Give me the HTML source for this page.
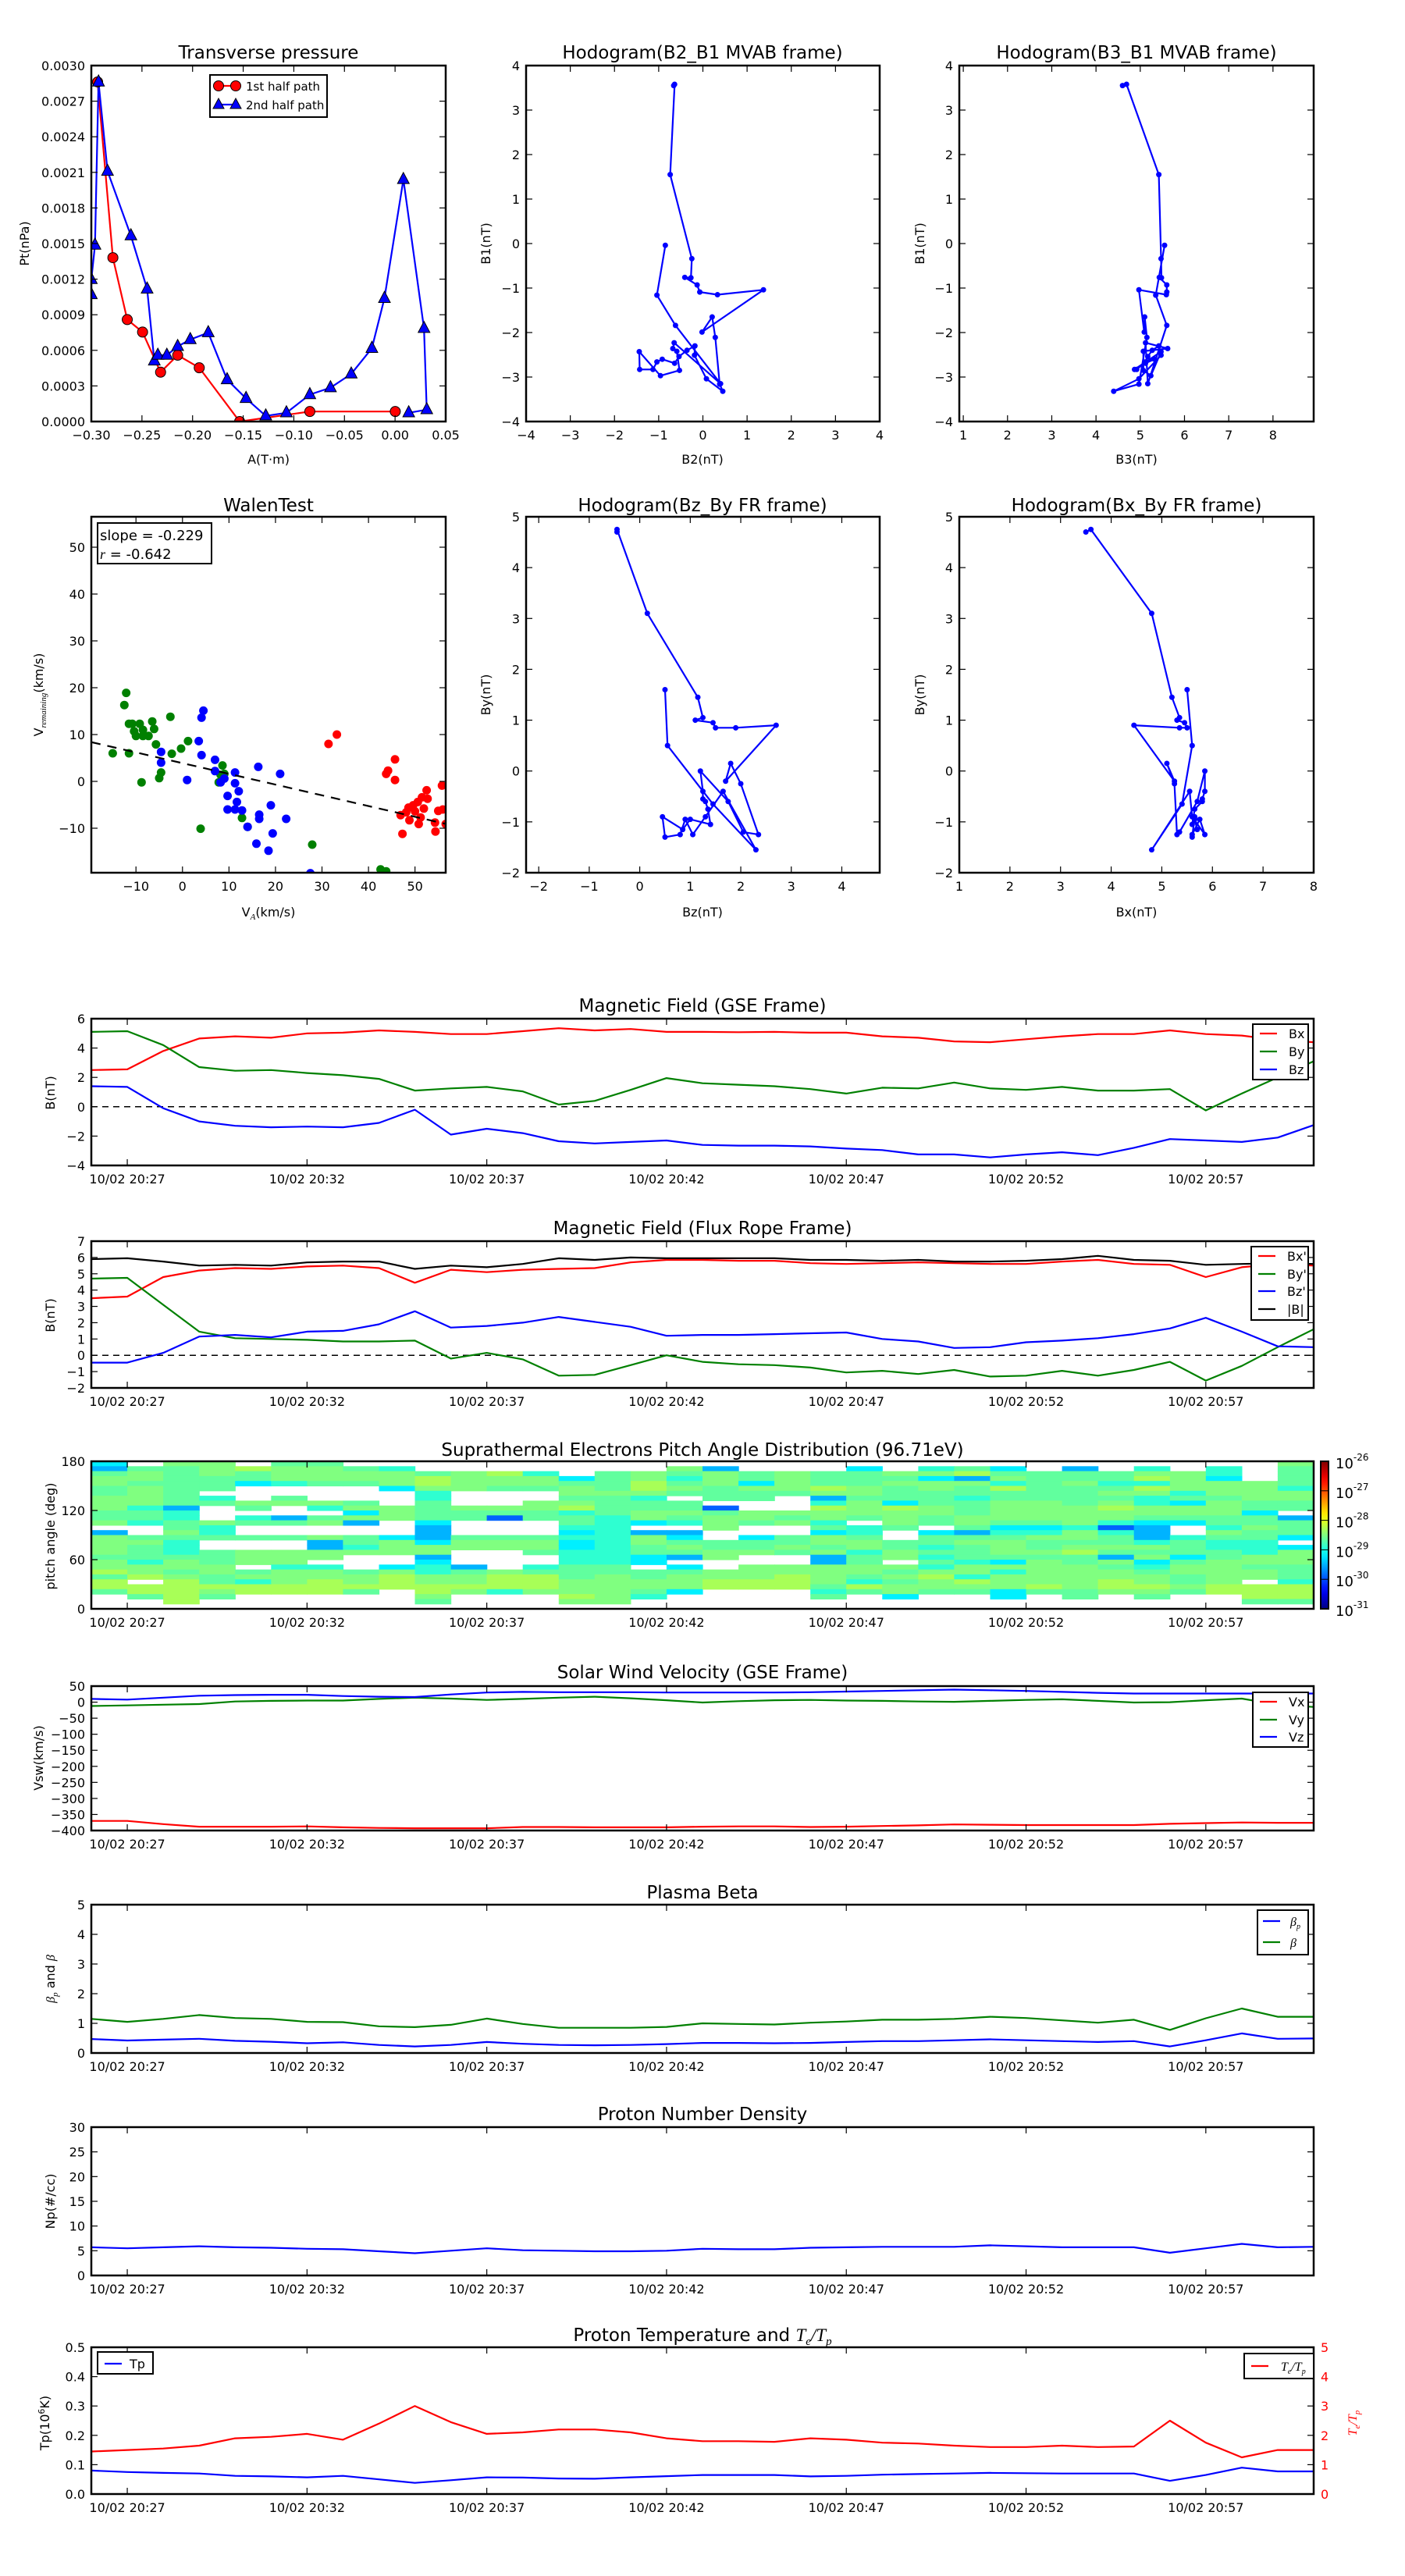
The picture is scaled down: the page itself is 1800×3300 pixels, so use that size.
<!DOCTYPE html>
<html><head><meta charset="utf-8"><title>Flux rope analysis</title>
<style>
html,body{margin:0;padding:0;background:#fff;}
svg{display:block;font-family:"DejaVu Sans","Liberation Sans",sans-serif;}
text{fill:#000;}
.ttl{font-size:23px;}
</style></head>
<body>
<svg id="chart" xmlns="http://www.w3.org/2000/svg" width="1800" height="3300" viewBox="0 0 1800 3300">
<rect x="0" y="0" width="1800" height="3300" fill="#fff"/>
<defs id="defs"></defs>
<!-- titles -->
<text class="ttl" x="344" y="75" text-anchor="middle">Transverse pressure</text>
<text class="ttl" x="900" y="75" text-anchor="middle">Hodogram(B2_B1 MVAB frame)</text>
<text class="ttl" x="1456" y="75" text-anchor="middle">Hodogram(B3_B1 MVAB frame)</text>
<text class="ttl" x="344" y="655" text-anchor="middle">WalenTest</text>
<text class="ttl" x="900" y="655" text-anchor="middle">Hodogram(Bz_By FR frame)</text>
<text class="ttl" x="1456" y="655" text-anchor="middle">Hodogram(Bx_By FR frame)</text>
<text class="ttl" x="900" y="1296" text-anchor="middle">Magnetic Field (GSE Frame)</text>
<text class="ttl" x="900" y="1581" text-anchor="middle">Magnetic Field (Flux Rope Frame)</text>
<text class="ttl" x="900" y="1865" text-anchor="middle">Suprathermal Electrons Pitch Angle Distribution (96.71eV)</text>
<text class="ttl" x="900" y="2150" text-anchor="middle">Solar Wind Velocity (GSE Frame)</text>
<text class="ttl" x="900" y="2432" text-anchor="middle">Plasma Beta</text>
<text class="ttl" x="900" y="2716" text-anchor="middle">Proton Number Density</text>
<text class="ttl" x="900" y="2999" text-anchor="middle">Proton Temperature and <tspan font-family="Liberation Serif,serif" font-style="italic">T</tspan><tspan font-family="Liberation Serif,serif" font-style="italic" font-size="15" dy="5">e</tspan><tspan font-family="Liberation Serif,serif" font-style="italic" dy="-5">/T</tspan><tspan font-family="Liberation Serif,serif" font-style="italic" font-size="15" dy="5">p</tspan></text>
<!-- axis labels -->
<text x="344" y="594" font-size="16" text-anchor="middle">A(T·m)</text>
<text x="900" y="594" font-size="16" text-anchor="middle">B2(nT)</text>
<text x="1456" y="594" font-size="16" text-anchor="middle">B3(nT)</text>
<text x="344" y="1174" font-size="16" text-anchor="middle">V<tspan font-family="Liberation Serif,serif" font-style="italic" font-size="11" dy="4">A</tspan><tspan dy="-4">(km/s)</tspan></text>
<text x="900" y="1174" font-size="16" text-anchor="middle">Bz(nT)</text>
<text x="1456" y="1174" font-size="16" text-anchor="middle">Bx(nT)</text>
<text transform="translate(37,312) rotate(-90)" font-size="16" text-anchor="middle">Pt(nPa)</text>
<text transform="translate(628,312) rotate(-90)" font-size="16" text-anchor="middle">B1(nT)</text>
<text transform="translate(1184,312) rotate(-90)" font-size="16" text-anchor="middle">B1(nT)</text>
<text transform="translate(55,890) rotate(-90)" font-size="16" text-anchor="middle">V<tspan font-family="Liberation Serif,serif" font-style="italic" font-size="11" dy="4">remaining</tspan><tspan dy="-4">(km/s)</tspan></text>
<text transform="translate(628,890) rotate(-90)" font-size="16" text-anchor="middle">By(nT)</text>
<text transform="translate(1184,890) rotate(-90)" font-size="16" text-anchor="middle">By(nT)</text>
<text transform="translate(70,1400) rotate(-90)" font-size="16" text-anchor="middle">B(nT)</text>
<text transform="translate(70,1685) rotate(-90)" font-size="16" text-anchor="middle">B(nT)</text>
<text transform="translate(70,1968) rotate(-90)" font-size="16" text-anchor="middle">pitch angle (deg)</text>
<text transform="translate(55,2252) rotate(-90)" font-size="16" text-anchor="middle">Vsw(km/s)</text>
<text transform="translate(70,2535) rotate(-90)" font-size="16" text-anchor="middle"><tspan font-family="Liberation Serif,serif" font-style="italic">β</tspan><tspan font-family="Liberation Serif,serif" font-style="italic" font-size="11" dy="4">p</tspan><tspan dy="-4"> and </tspan><tspan font-family="Liberation Serif,serif" font-style="italic">β</tspan></text>
<text transform="translate(70,2820) rotate(-90)" font-size="16" text-anchor="middle">Np(#/cc)</text>
<text transform="translate(63,3104) rotate(-90)" font-size="16" text-anchor="middle">Tp(10<tspan font-size="11" dy="-6">6</tspan><tspan dy="6">K)</tspan></text>
<text transform="translate(1738,3104) rotate(-90)" font-size="16" text-anchor="middle" fill="#f00" style="fill:#f00"><tspan font-family="Liberation Serif,serif" font-style="italic">T</tspan><tspan font-family="Liberation Serif,serif" font-style="italic" font-size="11" dy="4">e</tspan><tspan font-family="Liberation Serif,serif" font-style="italic" dy="-4">/T</tspan><tspan font-family="Liberation Serif,serif" font-style="italic" font-size="11" dy="4">p</tspan></text>
</svg>
<script>
// ---------------- DATA ----------------
const ptRedA = [-0.2938,-0.2787,-0.2645,-0.2494,-0.2316,-0.2147,-0.1934,-0.1535,-0.0842,0.0002];
const ptRedP = [0.002862,0.001381,0.000859,0.000754,0.000416,0.000559,0.000453,0.0,0.0000843,0.0000843];
const ptBlueA = [-0.300,-0.300,-0.2964,-0.2929,-0.2840,-0.2609,-0.2449,-0.2378,-0.2343,-0.2254,-0.2147,-0.2023,-0.1845,-0.1659,-0.1472,-0.1277,-0.1073,-0.0842,-0.0638,-0.0433,-0.0229,-0.0105,0.0082,0.0286,0.0313,0.0135];
const ptBlueP = [0.00107,0.001197,0.001487,0.002862,0.002109,0.001566,0.001117,0.000511,0.000559,0.000559,0.000633,0.000691,0.000749,0.000353,0.000195,0.0000474,0.0000738,0.000227,0.000285,0.000401,0.000617,0.001038,0.00204,0.000785,0.0001,0.0000738];
const ptYTicks = [0,0.0003,0.0006,0.0009,0.0012,0.0015,0.0018,0.0021,0.0024,0.0027,0.0030];
const ptYLabels = ["0.0000","0.0003","0.0006","0.0009","0.0012","0.0015","0.0018","0.0021","0.0024","0.0027","0.0030"];
const ptXTicks = [-0.30,-0.25,-0.20,-0.15,-0.10,-0.05,0.00,0.05];
const ptXLabels = ["\u22120.30","\u22120.25","\u22120.20","\u22120.15","\u22120.10","\u22120.05","0.00","0.05"];
const mvB1 = [3.55,3.58,1.55,-0.34,-0.77,-0.76,-0.93,-1.09,-1.15,-1.04,-1.99,-1.65,-2.11,-3.16,-3.32,-3.04,-2.51,-2.30,-2.40,-2.54,-2.69,-2.60,-2.66,-2.83,-2.83,-2.43,-2.97,-2.85,-2.42,-2.36,-2.23,-3.15,-1.84,-1.16,-0.04];
const mvB2 = [-0.66,-0.64,-0.74,-0.25,-0.27,-0.41,-0.13,-0.07,0.33,1.37,-0.02,0.21,0.28,0.38,0.45,0.08,-0.19,-0.18,-0.36,-0.54,-0.64,-0.92,-1.04,-1.13,-1.43,-1.44,-0.96,-0.53,-0.59,-0.68,-0.65,0.40,-0.62,-1.04,-0.85];
const mvB3 = [4.60,4.69,5.42,5.47,5.48,5.43,5.60,5.60,5.59,4.97,5.09,5.10,5.15,4.97,4.40,4.97,5.47,5.42,5.27,5.17,5.12,5.32,5.12,4.92,4.87,5.47,5.24,5.07,5.07,5.62,5.12,5.17,5.60,5.35,5.55];
const hodoTicks = [-4,-3,-2,-1,0,1,2,3,4];
const hodoTickLabels = ["\u22124","\u22123","\u22122","\u22121","0","1","2","3","4"];
const b3Ticks = [1,2,3,4,5,6,7,8];
const b3Labels = ["1","2","3","4","5","6","7","8"];
const walenGreenX = [-12.1,-12.5,-11.5,-10.8,-10.4,-10,-9.2,-8.5,-8.5,-7.3,-6.5,-6.1,-5.7,-15.0,-11.5,-8.8,-2.6,-2.3,-0.3,1.2,-5.0,-4.6,8.6,8.2,7.8,9.0,12.8,14.0,3.9,27.9,42.6,43.8];
const walenGreenY = [18.9,16.3,12.3,12.3,10.7,9.7,12.3,11.0,9.7,9.7,12.8,11.2,7.9,6.0,6.0,-0.2,13.8,5.9,7.0,8.6,0.7,1.9,3.4,1.4,-0.2,1.6,-7.8,-9.7,-10.1,-13.5,-18.8,-19.2];
const walenBlueX = [4.5,4.1,3.5,4.1,-4.6,-4.6,1.0,7.0,7.0,8.2,9.0,9.7,9.7,11.3,11.3,12.1,11.7,11.3,12.8,14.0,16.3,16.5,16.5,19.0,19.4,21.0,22.3,15.9,18.5,27.5];
const walenBlueY = [15.1,13.6,8.6,5.6,6.3,4.0,0.3,4.6,2.2,-0.2,0.6,-3.1,-6.0,1.9,-0.4,-2.1,-4.4,-6.0,-6.2,-9.7,3.1,-7.1,-8.0,-5.1,-11.1,1.6,-8.0,-13.3,-14.8,-19.6];
const walenRedX = [31.4,33.2,45.7,43.8,44.2,45.7,46.9,47.3,48.6,48.8,49.6,50.0,50.6,50.8,51.2,51.5,51.9,52.5,52.7,54.3,54.4,55.0,55.8,56.0,56.6,48.1];
const walenRedY = [8.0,10.0,4.7,1.6,2.3,0.3,-7.2,-11.2,-5.6,-8.3,-5.1,-6.4,-4.4,-9.1,-7.7,-3.4,-5.8,-1.9,-3.7,-8.8,-10.7,-6.3,-0.9,-6.0,-9.1,-6.6];
const walenSlope = [-0.229];
const walenIntercept = [3.9];
const walenXTicks = [-10,0,10,20,30,40,50];
const walenXLabels = ["\u221210","0","10","20","30","40","50"];
const walenYTicks = [-10,0,10,20,30,40,50];
const walenYLabels = ["\u221210","0","10","20","30","40","50"];
const minutes = [0,1,2,3,4,5,6,7,8,9,10,11,12,13,14,15,16,17,18,19,20,21,22,23,24,25,26,27,28,29,30,31,32,33,34];
const timeTicks = [1,6,11,16,21,26,31];
const timeLabels = ["10/02 20:27","10/02 20:32","10/02 20:37","10/02 20:42","10/02 20:47","10/02 20:52","10/02 20:57"];
const gseBx = [2.5,2.55,3.8,4.65,4.8,4.7,5.0,5.05,5.2,5.1,4.95,4.95,5.15,5.35,5.2,5.3,5.1,5.1,5.08,5.1,5.05,5.05,4.8,4.7,4.45,4.4,4.6,4.8,4.95,4.95,5.2,4.95,4.85,4.55,4.4];
const gseBy = [5.1,5.15,4.2,2.7,2.45,2.5,2.3,2.15,1.9,1.1,1.25,1.35,1.05,0.15,0.4,1.15,1.95,1.6,1.5,1.4,1.2,0.9,1.3,1.25,1.65,1.25,1.15,1.35,1.1,1.1,1.2,-0.25,0.9,2.0,3.1];
const gseBz = [1.4,1.35,-0.1,-1.0,-1.3,-1.4,-1.35,-1.4,-1.1,-0.2,-1.9,-1.5,-1.8,-2.35,-2.5,-2.4,-2.3,-2.6,-2.65,-2.65,-2.7,-2.85,-2.95,-3.25,-3.25,-3.45,-3.25,-3.1,-3.3,-2.8,-2.2,-2.3,-2.4,-2.1,-1.25];
const gseTicks = [-4,-2,0,2,4,6];
const gseLabels = ["\u22124","\u22122","0","2","4","6"];
const frBx = [3.5,3.6,4.8,5.2,5.35,5.3,5.45,5.5,5.35,4.45,5.25,5.1,5.25,5.3,5.35,5.7,5.85,5.85,5.8,5.8,5.65,5.6,5.65,5.7,5.65,5.6,5.6,5.75,5.85,5.6,5.55,4.8,5.4,5.6,5.5];
const frBy = [4.7,4.75,3.1,1.45,1.05,1.0,0.95,0.85,0.85,0.9,-0.2,0.15,-0.25,-1.25,-1.2,-0.6,0.0,-0.4,-0.55,-0.6,-0.75,-1.05,-0.95,-1.15,-0.9,-1.3,-1.25,-0.95,-1.25,-0.9,-0.4,-1.55,-0.65,0.5,1.6];
const frBz = [-0.45,-0.45,0.15,1.15,1.25,1.1,1.45,1.5,1.9,2.7,1.7,1.8,2.0,2.35,2.05,1.75,1.2,1.25,1.25,1.3,1.35,1.4,1.0,0.85,0.45,0.5,0.8,0.9,1.05,1.3,1.65,2.3,1.45,0.55,0.5];
const frBt = [5.9,5.95,5.75,5.5,5.55,5.5,5.7,5.75,5.75,5.3,5.5,5.4,5.6,5.95,5.85,6.0,5.95,5.95,5.95,5.95,5.85,5.85,5.8,5.85,5.75,5.75,5.8,5.9,6.1,5.85,5.8,5.55,5.6,5.65,5.6];
const frTicks = [-2,-1,0,1,2,3,4,5,6,7];
const frLabels = ["\u22122","\u22121","0","1","2","3","4","5","6","7"];
const fhBzTicks = [-2,-1,0,1,2,3,4];
const fhBzLabels = ["\u22122","\u22121","0","1","2","3","4"];
const fhByTicks = [-2,-1,0,1,2,3,4,5];
const fhByLabels = ["\u22122","\u22121","0","1","2","3","4","5"];
const fhBxTicks = [1,2,3,4,5,6,7,8];
const fhBxLabels = ["1","2","3","4","5","6","7","8"];
const padLevels = {a:-28.3,b:-28.5,c:-28.65,d:-28.9,e:-29.2,f:-29.5,g:-29.9};
const padColumns = [
"efcbbccbbbccb.fbbbbcbbacaac...",
".cbbcbbbbdccd..cbcccdbba.aac..",
"bccccccccfddccbcdddcbbcbaaaaa.",
"bbbccc.dc...bddc..cccbbccabc..",
".acce...bc.dc..c..bbb.cbdaa...",
"cbbbd..cb..fc..c..bbbdbbbaa...",
"cbbbc...bd.cb..bffbb.dbbaaa...",
".cbbc...cbebf..ccdb...cbbac...",
".dbbbe...bbb...ebbb..ebaaa....",
"..caabddccccefffebbfeddbbaabc.",
"..bbbb...bcc...cbb...fcbbab...",
"..abbc...bcg...cbb....baaad...",
"..dbbc..bbcc...cbbc..dcaaab...",
"...ecbbcbadccdedeedddcccbbbab.",
"..ccccbccccddddddddddccbbbbbb.",
"..bbaabdccbbe.fbbccee.ccbbcd..",
".bcdcbc.ccbcd.fecbcf.ecbbbe...",
".fbbbccc.gcbbb..ccbb..bbaa....",
"..ccebcc..bbc..eccb..bbbaa....",
"..bbbbc...bcb..ccbc..bbaaa....",
"..cccabfdabbdcebbcbffbbbbcdc..",
".ecccbbcbbbc.ddcbbdccbbcdac...",
"..bcbccceabbbc..ccbb.bcbcbbe..",
".dbebbcccbbcc.eccdcdcdbabbc...",
".cafbccdcccbbcfcbcccdbbdabc...",
".ecbdaccbbbbcedcbbbcebdbbbee..",
"..ccccccbbbbcedbccbcbbbbbac...",
".fccbccccbbbbdbbcbaccbbbbbcc..",
"..ccdcbcbabbdgdccbcfbcbbaab...",
".dbadabddbbcefffdbcbedcbbabc..",
"..bbbbdcebbce..dcccecbbccbc...",
".ddebbbcbbbccdbcddccbbbbbaa...",
"....bbbbcceccbccdddbbcbb.aaac.",
"bccccdbbcc.fccce.ebbbcccdaaac."
];
const padYTicks = [0,60,120,180];
const padYLabels = ["0","60","120","180"];
const cbarExp = [-31,-30,-29,-28,-27,-26];
const swVx = [-370,-370,-380,-388,-388,-388,-387,-390,-392,-393,-393,-393,-389,-389,-390,-390,-390,-388,-387,-387,-389,-388,-386,-384,-381,-382,-383,-383,-383,-383,-379,-377,-375,-376,-376];
const swVy = [-12,-10,-8,-6,2,4,5,5,10,14,11,7,10,14,17,12,6,-1,3,6,7,5,4,2,1,4,7,9,4,-1,0,6,11,-8,-15];
const swVz = [10,8,14,20,22,23,23,19,17,16,24,30,32,31,31,31,30,30,30,30,31,33,35,37,39,37,35,32,29,27,27,27,27,27,27];
const swTicks = [-400,-350,-300,-250,-200,-150,-100,-50,0,50];
const swLabels = ["\u2212400","\u2212350","\u2212300","\u2212250","\u2212200","\u2212150","\u2212100","\u221250","0","50"];
const betaP = [0.47,0.42,0.45,0.48,0.41,0.38,0.33,0.36,0.27,0.22,0.27,0.37,0.31,0.27,0.26,0.27,0.30,0.34,0.34,0.33,0.34,0.37,0.40,0.40,0.43,0.46,0.43,0.40,0.37,0.40,0.22,0.43,0.66,0.48,0.49];
const betaT = [1.15,1.05,1.15,1.28,1.18,1.15,1.05,1.04,0.9,0.87,0.95,1.16,0.98,0.85,0.85,0.85,0.88,1.0,0.98,0.96,1.02,1.06,1.12,1.12,1.15,1.22,1.18,1.10,1.02,1.12,0.78,1.17,1.50,1.22,1.22];
const betaTicks = [0,1,2,3,4,5];
const betaLabels = ["0","1","2","3","4","5"];
const npVals = [5.7,5.5,5.7,5.9,5.7,5.6,5.4,5.3,4.9,4.5,5.0,5.5,5.1,5.0,4.9,4.9,5.0,5.4,5.3,5.3,5.6,5.7,5.8,5.8,5.8,6.1,5.9,5.7,5.7,5.7,4.6,5.5,6.4,5.7,5.8];
const npTicks = [0,5,10,15,20,25,30];
const npLabels = ["0","5","10","15","20","25","30"];
const tpVals = [0.08,0.075,0.072,0.07,0.062,0.06,0.057,0.062,0.05,0.038,0.047,0.057,0.056,0.053,0.052,0.057,0.061,0.065,0.065,0.065,0.06,0.062,0.066,0.068,0.07,0.072,0.071,0.07,0.07,0.07,0.045,0.065,0.09,0.077,0.077];
const teTpVals = [1.45,1.5,1.55,1.65,1.9,1.95,2.05,1.85,2.4,3.0,2.45,2.05,2.1,2.2,2.2,2.1,1.9,1.8,1.8,1.78,1.9,1.85,1.75,1.72,1.65,1.6,1.6,1.65,1.6,1.62,2.5,1.75,1.25,1.5,1.5];
const tpTicks = [0,0.1,0.2,0.3,0.4,0.5];
const tpLabels = ["0.0","0.1","0.2","0.3","0.4","0.5"];
const ratioTicks = [0,1,2,3,4,5];
const ratioLabels = ["0","1","2","3","4","5"];

// ---------------- DRAWING ----------------
const NS = 'http://www.w3.org/2000/svg';
const svg = document.getElementById('chart');
const defs = document.getElementById('defs');
let clipN = 0;
function mk(tag, attrs, parent) {
  const e = document.createElementNS(NS, tag);
  for (const k in attrs) e.setAttribute(k, attrs[k]);
  (parent || svg).appendChild(e);
  return e;
}
function makeAxes(name, x, y, w, h, xr, yr) {
  clipN++;
  const cp = mk('clipPath', {id: 'clip' + clipN}, defs);
  mk('rect', {x: x, y: y, width: w, height: h}, cp);
  const g = mk('g', {'clip-path': 'url(#clip' + clipN + ')'});
  
  
  return {name, x, y, w, h, g,
    sx: v => x + (v - xr[0]) / (xr[1] - xr[0]) * w,
    sy: v => y + h - (v - yr[0]) / (yr[1] - yr[0]) * h};
}
function frame(ax) {
  const r = mk('rect', {x: ax.x, y: ax.y, width: ax.w, height: ax.h, fill: 'none', stroke: '#000', 'stroke-width': 2.5});
  
  
}
function yTicks(ax, vals, labels, opt) {
  opt = opt || {};
  const g = mk('g', {});
  
  
  vals.forEach((v, i) => {
    const py = ax.sy(v);
    if (!opt.noLeft) mk('line', {x1: ax.x, x2: ax.x + 8, y1: py, y2: py, stroke: '#000', 'stroke-width': 1.2}, g);
    if (!opt.noRight) mk('line', {x1: ax.x + ax.w - 8, x2: ax.x + ax.w, y1: py, y2: py, stroke: opt.rightColor || '#000', 'stroke-width': 1.2}, g);
    if (opt.right) {
      const t = mk('text', {x: ax.x + ax.w + 9, y: py + 6, 'font-size': 16, fill: opt.color || '#000', style: 'fill:' + (opt.color || '#000')}, g);
      t.textContent = labels[i];
    } else {
      const t = mk('text', {x: ax.x - 8, y: py + 6, 'font-size': 16, 'text-anchor': 'end'}, g);
      t.textContent = labels[i];
    }
  });
}
function xTicks(ax, vals, labels, sx) {
  sx = sx || ax.sx;
  const g = mk('g', {});
  
  
  vals.forEach((v, i) => {
    const px = sx(v);
    mk('line', {x1: px, x2: px, y1: ax.y + ax.h, y2: ax.y + ax.h - 8, stroke: '#000', 'stroke-width': 1.2}, g);
    mk('line', {x1: px, x2: px, y1: ax.y, y2: ax.y + 8, stroke: '#000', 'stroke-width': 1.2}, g);
    const t = mk('text', {x: px, y: ax.y + ax.h + 23, 'font-size': 16, 'text-anchor': 'middle'}, g);
    t.textContent = labels[i];
  });
}
function series(ax, xs, ys, color, name, dash, sx, sy) {
  sx = sx || ax.sx; sy = sy || ax.sy;
  const pts = xs.map((v, i) => sx(v).toFixed(1) + ',' + sy(ys[i]).toFixed(1)).join(' ');
  const p = mk('polyline', {points: pts, fill: 'none', stroke: color, 'stroke-width': 2.2, 'stroke-linejoin': 'round'}, ax.g);
  if (dash) p.setAttribute('stroke-dasharray', dash);
  
  
  return p;
}
function dots(ax, xs, ys, color, r, name, shape, stroke) {
  const g = mk('g', {}, ax.g);
  
  
  xs.forEach((v, i) => {
    const px = ax.sx(v), py = ax.sy(ys[i]);
    if (shape === 'tri') {
      const pg = mk('polygon', {points: `${px},${py - r * 1.2} ${px - r},${py + r * 0.7} ${px + r},${py + r * 0.7}`, fill: color, stroke: stroke || 'none', 'stroke-width': 1}, g);
      
      
    } else {
      const c = mk('circle', {cx: px, cy: py, r: r, fill: color, stroke: stroke || 'none', 'stroke-width': 1}, g);
      
      
    }
  });
}
function hline(ax, v, name) {
  const l = mk('line', {x1: ax.x, x2: ax.x + ax.w, y1: ax.sy(v), y2: ax.sy(v), stroke: '#000', 'stroke-width': 1.5, 'stroke-dasharray': '8,6'}, ax.g);
  
  
}
function legend(name, x, y, w, h, entries, rowYs, lx, tx) {
  const g = mk('g', {});
  
  
  mk('rect', {x: x, y: y, width: w, height: h, fill: '#fff', stroke: '#000', 'stroke-width': 2}, g);
  entries.forEach((e, i) => {
    const eg = mk('g', {}, g);
    
    
    mk('line', {x1: lx, x2: lx + 22, y1: rowYs[i], y2: rowYs[i], stroke: e.color, 'stroke-width': 2.2}, eg);
    if (e.marker) {
      if (e.marker === 'tri') {
        [lx, lx + 22].forEach(px => mk('polygon', {points: `${px},${rowYs[i] - 8} ${px - 7},${rowYs[i] + 5} ${px + 7},${rowYs[i] + 5}`, fill: e.color, stroke: '#000', 'stroke-width': 1}, eg));
      } else {
        [lx, lx + 22].forEach(px => mk('circle', {cx: px, cy: rowYs[i], r: 6.5, fill: e.color, stroke: '#000', 'stroke-width': 1}, eg));
      }
    }
    const t = mk('text', {x: tx, y: rowYs[i] + 6, 'font-size': e.size || 16}, eg);
    if (e.html) t.innerHTML = e.html; else t.textContent = e.label;
  });
}

{
  const ax = makeAxes('transverse-pressure', 117, 84, 454, 456, [-0.30, 0.05], [0, 0.003]);
  series(ax, ptRedA, ptRedP, '#f00', 'series-1st-half-path');
  series(ax, ptBlueA, ptBlueP, '#00f', 'series-2nd-half-path');
  dots(ax, ptRedA, ptRedP, '#f00', 6.5, 'markers-1st-half-path', 'circle', '#000');
  dots(ax, ptBlueA, ptBlueP, '#00f', 7.5, 'markers-2nd-half-path', 'tri', '#000');
  frame(ax);
  yTicks(ax, ptYTicks, ptYLabels);
  xTicks(ax, ptXTicks, ptXLabels);
  legend('legend-transverse-pressure', 269, 96, 150, 54, [
    {key: '1st-half-path', color: '#f00', marker: 'circle', label: '1st half path', size: 15},
    {key: '2nd-half-path', color: '#00f', marker: 'tri', label: '2nd half path', size: 15}
  ], [110, 134], 280, 315);
}
{
  const ax = makeAxes('hodogram-b2-b1', 674, 84, 453, 456, [-4, 4], [-4, 4]);
  series(ax, mvB2, mvB1, '#00f', 'hodogram-b2-b1-line');
  dots(ax, mvB2, mvB1, '#00f', 3.5, 'hodogram-b2-b1-points');
  frame(ax);
  yTicks(ax, hodoTicks, hodoTickLabels);
  xTicks(ax, hodoTicks, hodoTickLabels);
}
{
  const ax = makeAxes('hodogram-b3-b1', 1229, 84, 454, 456, [0.91, 8.92], [-4, 4]);
  series(ax, mvB3, mvB1, '#00f', 'hodogram-b3-b1-line');
  dots(ax, mvB3, mvB1, '#00f', 3.5, 'hodogram-b3-b1-points');
  frame(ax);
  yTicks(ax, hodoTicks, hodoTickLabels);
  xTicks(ax, b3Ticks, b3Labels);
}
{
  const ax = makeAxes('walen-test', 117, 662, 454, 456, [-19.6, 56.6], [-19.5, 56.5]);
  dots(ax, walenGreenX, walenGreenY, '#008000', 5.5, 'walen-green-points');
  dots(ax, walenBlueX, walenBlueY, '#00f', 5.5, 'walen-blue-points');
  dots(ax, walenRedX, walenRedY, '#f00', 5.5, 'walen-red-points');
  const fx = [-19.6, 56.6];
  const fy = fx.map(v => walenSlope[0] * v + walenIntercept[0]);
  series(ax, fx, fy, '#000', 'walen-fit-line', '12,9');
  frame(ax);
  yTicks(ax, walenYTicks, walenYLabels);
  xTicks(ax, walenXTicks, walenXLabels);
  const g = mk('g', {});
  
  
  mk('rect', {x: 125, y: 670, width: 146, height: 52, fill: '#fff', stroke: '#000', 'stroke-width': 2}, g);
  const t1 = mk('text', {x: 128, y: 692, 'font-size': 18}, g);
  t1.textContent = 'slope = -0.229';
  const t2 = mk('text', {x: 128, y: 716, 'font-size': 18}, g);
  t2.innerHTML = '<tspan font-family="Liberation Serif,serif" font-style="italic">r</tspan> = -0.642';
}
{
  const ax = makeAxes('hodogram-bz-by', 674, 662, 453, 456, [-2.25, 4.75], [-2, 5]);
  series(ax, frBz, frBy, '#00f', 'hodogram-bz-by-line');
  dots(ax, frBz, frBy, '#00f', 3.5, 'hodogram-bz-by-points');
  frame(ax);
  yTicks(ax, fhByTicks, fhByLabels);
  xTicks(ax, fhBzTicks, fhBzLabels);
}
{
  const ax = makeAxes('hodogram-bx-by', 1229, 662, 454, 456, [1, 8], [-2, 5]);
  series(ax, frBx, frBy, '#00f', 'hodogram-bx-by-line');
  dots(ax, frBx, frBy, '#00f', 3.5, 'hodogram-bx-by-points');
  frame(ax);
  yTicks(ax, fhByTicks, fhByLabels);
  xTicks(ax, fhBxTicks, fhBxLabels);
}
function timeAxes(name, y, h, yr) {
  return makeAxes(name, 117, y, 1566, h, [0, 34], yr);
}
{
  const ax = timeAxes('magnetic-field-gse', 1305, 188, [-4, 6]);
  hline(ax, 0, 'gse-zero-line');
  series(ax, minutes, gseBx, '#f00', 'series-bx');
  series(ax, minutes, gseBy, '#008000', 'series-by');
  series(ax, minutes, gseBz, '#00f', 'series-bz');
  frame(ax);
  yTicks(ax, gseTicks, gseLabels);
  xTicks(ax, timeTicks, timeLabels);
  legend('legend-gse', 1605, 1312, 71, 71, [
    {key: 'bx', color: '#f00', label: 'Bx'}, {key: 'by', color: '#008000', label: 'By'}, {key: 'bz', color: '#00f', label: 'Bz'}
  ], [1324, 1347, 1370], 1614, 1651);
}
{
  const ax = timeAxes('magnetic-field-fr', 1590, 188, [-2, 7]);
  hline(ax, 0, 'fr-zero-line');
  series(ax, minutes, frBx, '#f00', 'series-bx-prime');
  series(ax, minutes, frBy, '#008000', 'series-by-prime');
  series(ax, minutes, frBz, '#00f', 'series-bz-prime');
  series(ax, minutes, frBt, '#000', 'series-b-magnitude');
  frame(ax);
  yTicks(ax, frTicks, frLabels);
  xTicks(ax, timeTicks, timeLabels);
  legend('legend-fr', 1603, 1597, 73, 94, [
    {key: 'bx-prime', color: '#f00', label: "Bx'"}, {key: 'by-prime', color: '#008000', label: "By'"},
    {key: 'bz-prime', color: '#00f', label: "Bz'"}, {key: 'b-magnitude', color: '#000', label: '|B|'}
  ], [1609, 1632, 1654, 1677], 1612, 1649);
}
function jet(t) {
  const c = v => Math.max(0, Math.min(1, v));
  const r = c(1.5 - Math.abs(4 * t - 3)), g = c(1.5 - Math.abs(4 * t - 2)), b = c(1.5 - Math.abs(4 * t - 1));
  return `rgb(${Math.round(r * 255)},${Math.round(g * 255)},${Math.round(b * 255)})`;
}
{
  const ax = makeAxes('pitch-angle-distribution', 117, 1872, 1566, 189, [0, 34], [0, 180]);
  const nb = 30, bw = 180 / nb;
  padColumns.forEach((col, i) => {
    for (let r = 0; r < nb; r++) {
      const ch = col.charAt(r);
      if (!(ch in padLevels)) continue;
      const v = padLevels[ch];
      const top = 180 - r * bw;
      const x0 = ax.sx(minutes[i]), x1 = ax.sx(minutes[i] + 1);
      const y0 = ax.sy(top), y1 = ax.sy(top - bw);
      const cell = mk('rect', {x: x0.toFixed(1), y: y0.toFixed(1), width: (x1 - x0 + 0.6).toFixed(1), height: (y1 - y0 + 0.6).toFixed(1), fill: jet((v + 31) / 5)}, ax.g);
      
      
    }
  });
  frame(ax);
  yTicks(ax, padYTicks, padYLabels);
  xTicks(ax, timeTicks, timeLabels);
  const lg = mk('linearGradient', {id: 'jetgrad', x1: 0, y1: 1, x2: 0, y2: 0}, defs);
  for (let k = 0; k <= 20; k++) mk('stop', {offset: k / 20, 'stop-color': jet(k / 20)}, lg);
  const cb = mk('g', {});
  
  
  mk('rect', {x: 1692, y: 1872, width: 10, height: 189, fill: 'url(#jetgrad)', stroke: '#000', 'stroke-width': 2}, cb);
  cbarExp.forEach(e => {
    const py = 1872 + 189 - (e + 31) / 5 * 189;
    mk('line', {x1: 1692, x2: 1702, y1: py, y2: py, stroke: '#000', 'stroke-width': 1}, cb);
    const t = mk('text', {x: 1711, y: py + 9, 'font-size': 18}, cb);
    t.innerHTML = '10<tspan font-size="12" dy="-10">' + e + '</tspan>';
  });
}
{
  const ax = timeAxes('solar-wind-velocity', 2160, 185, [-400, 50]);
  series(ax, minutes, swVx, '#f00', 'series-vx');
  series(ax, minutes, swVy, '#008000', 'series-vy');
  series(ax, minutes, swVz, '#00f', 'series-vz');
  frame(ax);
  yTicks(ax, swTicks, swLabels);
  xTicks(ax, timeTicks, timeLabels);
  legend('legend-solar-wind', 1605, 2168, 71, 70, [
    {key: 'vx', color: '#f00', label: 'Vx'}, {key: 'vy', color: '#008000', label: 'Vy'}, {key: 'vz', color: '#00f', label: 'Vz'}
  ], [2180, 2203, 2225], 1614, 1651);
}
{
  const ax = timeAxes('plasma-beta', 2440, 190, [0, 5]);
  series(ax, minutes, betaP, '#00f', 'series-beta-p');
  series(ax, minutes, betaT, '#008000', 'series-beta');
  frame(ax);
  yTicks(ax, betaTicks, betaLabels);
  xTicks(ax, timeTicks, timeLabels);
  legend('legend-beta', 1611, 2447, 65, 57, [
    {key: 'beta-p', color: '#00f', html: '<tspan font-family="Liberation Serif,serif" font-style="italic">β</tspan><tspan font-family="Liberation Serif,serif" font-style="italic" font-size="10" dy="4">p</tspan>'},
    {key: 'beta', color: '#008000', html: '<tspan font-family="Liberation Serif,serif" font-style="italic">β</tspan>'}
  ], [2461, 2488], 1618, 1653);
}
{
  const ax = timeAxes('proton-density', 2725, 190, [0, 30]);
  series(ax, minutes, npVals, '#00f', 'series-np');
  frame(ax);
  yTicks(ax, npTicks, npLabels);
  xTicks(ax, timeTicks, timeLabels);
}
{
  const ax = timeAxes('proton-temperature', 3007, 188, [0, 0.5]);
  const syR = v => ax.y + ax.h - v / 5 * ax.h;
  series(ax, minutes, teTpVals, '#f00', 'series-te-tp', null, null, syR);
  series(ax, minutes, tpVals, '#00f', 'series-tp');
  frame(ax);
  yTicks(ax, tpTicks, tpLabels, {noRight: true});
  const axR = {name: 'proton-temperature-right', x: ax.x, y: ax.y, w: ax.w, h: ax.h, sy: syR};
  yTicks(axR, ratioTicks, ratioLabels, {right: true, noLeft: true, color: '#f00'});
  xTicks(ax, timeTicks, timeLabels);
  legend('legend-tp', 125, 3013, 71, 28, [{key: 'tp', color: '#00f', label: 'Tp'}], [3028], 134, 166);
  legend('legend-te-tp', 1594, 3015, 89, 32, [
    {key: 'te-tp', color: '#f00', html: '<tspan font-family="Liberation Serif,serif" font-style="italic">T</tspan><tspan font-family="Liberation Serif,serif" font-style="italic" font-size="10" dy="4">e</tspan><tspan font-family="Liberation Serif,serif" font-style="italic" dy="-4">/T</tspan><tspan font-family="Liberation Serif,serif" font-style="italic" font-size="10" dy="4">p</tspan>'}
  ], [3031], 1603, 1641);
}
</script>
</body></html>
